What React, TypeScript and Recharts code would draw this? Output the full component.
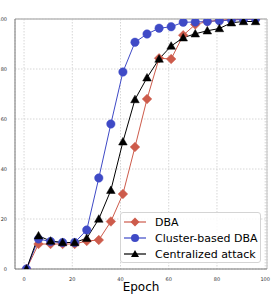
import React from 'react';
import { LineChart, Line, XAxis, YAxis, CartesianGrid, ReferenceLine } from 'recharts';

const epochs = [1, 6, 11, 16, 21, 26, 31, 36, 41, 46, 51, 56, 61, 66, 71, 76, 81, 86, 91, 96];
const dba = [0, 10, 10, 10, 10, 11.2, 11.6, 19, 30, 48.8, 68, 84.3, 84, 93.5, 97.8, 99, 99.5, 99.8, 100, 100];
const cluster = [0, 12, 11, 10.6, 10.6, 15.6, 36.4, 58, 78.8, 90.7, 94, 96.3, 96.9, 98.7, 98.8, 99, 99.3, 99.6, 99.8, 100];
const central = [0, 13.3, 11.2, 10.6, 10.6, 12.3, 20, 31.5, 50.9, 67.8, 76.5, 84, 89.2, 92.5, 94.1, 95.3, 96.2, 98.5, 99, 99];
const xTicks = [0, 20, 40, 60, 80, 100];
const yTicks = [0, 20, 40, 60, 80, 100];

const RED = '#cd5b4b';
const BLUE = '#3f4ac6';
const BLACK = '#000000';

const data = epochs.map((e, i) => ({ epoch: e, dba: dba[i], cluster: cluster[i], central: central[i] }));

const Diamond = (props: any) => {
  const { cx, cy } = props;
  if (cx == null || cy == null) return null;
  const r = 4.8;
  return <polygon points={`${cx},${cy - r} ${cx + r},${cy} ${cx},${cy + r} ${cx - r},${cy}`} fill={RED} stroke={RED} strokeWidth={0.5} />;
};
const Circle = (props: any) => {
  const { cx, cy } = props;
  if (cx == null || cy == null) return null;
  return <circle cx={cx} cy={cy} r={4.2} fill={BLUE} stroke={BLUE} strokeWidth={0.5} />;
};
const Tri = (props: any) => {
  const { cx, cy } = props;
  if (cx == null || cy == null) return null;
  const w = 4.3, h = 4.3;
  return <polygon points={`${cx},${cy - h} ${cx + w},${cy + h * 0.75} ${cx - w},${cy + h * 0.75}`} fill={BLACK} stroke={BLACK} strokeWidth={0.5} />;
};

const legendItems = [
  { name: 'DBA', color: RED, kind: 'd' },
  { name: 'Cluster-based DBA', color: BLUE, kind: 'c' },
  { name: 'Centralized attack', color: BLACK, kind: 't' },
];

const LegendBox = () => (
  <div style={{
    position: 'absolute', left: 120, top: 212,
    width: 141, height: 51, border: '1px solid #d4d4d4', borderRadius: 3, background: 'rgba(255,255,255,0.85)',
    boxSizing: 'border-box', paddingTop: 1, fontFamily: 'DejaVu Sans', fontSize: 11, color: '#000',
  }}>
    {legendItems.map((it) => (
      <div key={it.name} style={{ display: 'flex', alignItems: 'center', height: 16 }}>
        <svg width={34} height={16} style={{ flex: 'none' }}>
          <line x1={3} y1={8} x2={25} y2={8} stroke={it.color} strokeWidth={1.2} />
          {it.kind === 'd' && <polygon points="14,3.5 18.5,8 14,12.5 9.5,8" fill={it.color} />}
          {it.kind === 'c' && <circle cx={14} cy={8} r={4} fill={it.color} />}
          {it.kind === 't' && <polygon points="14,4 18,11 10,11" fill={it.color} />}
        </svg>
        <span style={{ whiteSpace: 'nowrap', marginLeft: 0 }}>{it.name}</span>
      </div>
    ))}
  </div>
);

const tickStyle = { fontSize: 5, fill: '#333', fontFamily: 'DejaVu Sans' };

export default function App() {
  return (
    <div style={{ position: 'absolute', left: 0, top: 0, width: 275, height: 300, background: '#fff' }}>
      <LineChart width={275} height={300} data={data} margin={{ top: 19, right: 8, bottom: 0, left: 0 }}>
        <CartesianGrid stroke="#d6d6d6" strokeDasharray="1.5 1.5" horizontal vertical />
        <XAxis
          dataKey="epoch"
          type="number"
          domain={[-3.75, 100.75]}
          ticks={xTicks}
          allowDataOverflow
          height={31}
          tickLine={false}
          axisLine={{ stroke: '#777' }}
          tick={tickStyle}
          tickMargin={2}
          label={{ value: 'Epoch', position: 'insideBottom', offset: 9, style: { fontSize: 12, fill: '#000', fontFamily: 'DejaVu Sans' } }}
        />
        <YAxis
          type="number"
          domain={[0, 100]}
          ticks={yTicks}
          allowDataOverflow
          width={15}
          tickLine={false}
          axisLine={{ stroke: '#777' }}
          tick={tickStyle}
          tickMargin={2}
        />
        <ReferenceLine y={100} stroke="#bbbbbb" strokeWidth={1.5} />
        <ReferenceLine x={100.75} stroke="#bbbbbb" strokeWidth={1} />
        <Line type="linear" dataKey="dba" name="DBA" stroke={RED} strokeWidth={1} dot={<Diamond />} activeDot={false} isAnimationActive={false} />
        <Line type="linear" dataKey="cluster" name="Cluster-based DBA" stroke={BLUE} strokeWidth={1} dot={<Circle />} activeDot={false} isAnimationActive={false} />
        <Line type="linear" dataKey="central" name="Centralized attack" stroke={BLACK} strokeWidth={1} dot={<Tri />} activeDot={false} isAnimationActive={false} />
      </LineChart>
      <LegendBox />
    </div>
  );
}
